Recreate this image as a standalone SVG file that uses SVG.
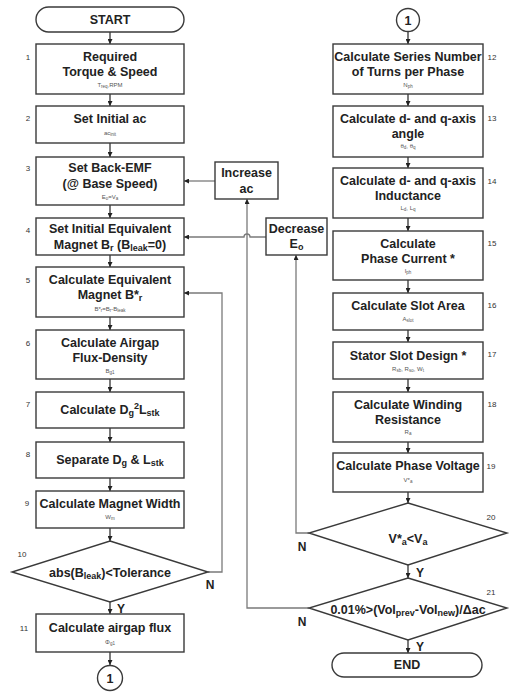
<svg xmlns="http://www.w3.org/2000/svg" width="517" height="700" viewBox="0 0 517 700">
<style>
.b{fill:#fff;stroke:#3a3a3a;stroke-width:1.4}
.t{font-family:"Liberation Sans",Arial,sans-serif;font-weight:bold;font-size:12.5px;fill:#222;text-anchor:middle}
.s{font-family:"Liberation Sans",Arial,sans-serif;font-size:6px;fill:#555;text-anchor:middle}
.n{font-family:"Liberation Sans",Arial,sans-serif;font-size:8px;fill:#333;text-anchor:middle}
.yn{font-family:"Liberation Sans",Arial,sans-serif;font-weight:bold;font-size:12px;fill:#222;text-anchor:middle}
.c{fill:none;stroke:#222;stroke-width:1.2}
.g{fill:none;stroke:#7a7a7a;stroke-width:1.3}
</style>
<defs>
<marker id="a" viewBox="0 0 6 6" markerWidth="5" markerHeight="5" refX="6" refY="3" orient="auto" markerUnits="userSpaceOnUse"><path d="M0,0 L6,3 L0,6 z" fill="#222"/></marker>
</defs>

<g id="connectors">
<path class="c" d="M110,32 V44" marker-end="url(#a)"/>
<path class="c" d="M110,94 V106" marker-end="url(#a)"/>
<path class="c" d="M110,143 V157" marker-end="url(#a)"/>
<path class="c" d="M110,205 V218" marker-end="url(#a)"/>
<path class="c" d="M110,255 V267" marker-end="url(#a)"/>
<path class="c" d="M110,317 V330" marker-end="url(#a)"/>
<path class="c" d="M110,379 V392" marker-end="url(#a)"/>
<path class="c" d="M110,428 V442" marker-end="url(#a)"/>
<path class="c" d="M110,478 V491" marker-end="url(#a)"/>
<path class="c" d="M110,528 V541" marker-end="url(#a)"/>
<path class="c" d="M110,602 V614" marker-end="url(#a)"/>
<path class="c" d="M110,652 V665" marker-end="url(#a)"/>
<path class="g" d="M208,572 H222 V293 H184" marker-end="url(#a)"/>
<path class="g" d="M215,181 H184" marker-end="url(#a)"/>
<path class="g" d="M266,237 H250 A3,3 0 0 0 244,237 H184" marker-end="url(#a)"/>
<path class="g" d="M309,608 H247 V199" marker-end="url(#a)"/>
<path class="g" d="M309,533 H296 V255" marker-end="url(#a)"/>
<path class="c" d="M408,31.5 V44" marker-end="url(#a)"/>
<path class="c" d="M408,94 V106" marker-end="url(#a)"/>
<path class="c" d="M408,157 V168" marker-end="url(#a)"/>
<path class="c" d="M408,218 V231" marker-end="url(#a)"/>
<path class="c" d="M408,280 V293" marker-end="url(#a)"/>
<path class="c" d="M408,330 V342" marker-end="url(#a)"/>
<path class="c" d="M408,379 V392" marker-end="url(#a)"/>
<path class="c" d="M408,442 V453" marker-end="url(#a)"/>
<path class="c" d="M408,492 V503" marker-end="url(#a)"/>
<path class="c" d="M408,565 V578" marker-end="url(#a)"/>
<path class="c" d="M408,640 V653" marker-end="url(#a)"/>
<text class="yn" x="210" y="589">N</text>
<text class="yn" x="121" y="613">Y</text>
<text class="yn" x="302" y="551">N</text>
<text class="yn" x="420" y="577">Y</text>
<text class="yn" x="302" y="626">N</text>
<text class="yn" x="420" y="651">Y</text>
</g>

<g id="start"><rect class="b" x="36" y="7" width="148" height="25" rx="12.5"/><text class="t" x="110" y="24">START</text></g>

<g id="n1"><rect class="b" x="36" y="44" width="148" height="50"/><text class="n" x="28" y="60">1</text>
<text class="t" x="110" y="61">Required</text><text class="t" x="110" y="76">Torque &amp; Speed</text>
<text class="s" x="110" y="87">T<tspan font-size="4.5" dy="1">req</tspan><tspan dy="-1">,RPM</tspan></text></g>

<g id="n2"><rect class="b" x="36" y="106" width="148" height="37"/><text class="n" x="28" y="121">2</text>
<text class="t" x="110" y="123">Set Initial ac</text>
<text class="s" x="110" y="135">ac<tspan font-size="4.5" dy="1">init</tspan></text></g>

<g id="n3"><rect class="b" x="36" y="157" width="148" height="48"/><text class="n" x="28" y="171">3</text>
<text class="t" x="110" y="172">Set Back-EMF</text><text class="t" x="110" y="188">(@ Base Speed)</text>
<text class="s" x="110" y="199">E<tspan font-size="4.5" dy="1">o</tspan><tspan dy="-1">=V</tspan><tspan font-size="4.5" dy="1">a</tspan></text></g>

<g id="n4"><rect class="b" x="36" y="218" width="148" height="37"/><text class="n" x="28" y="233">4</text>
<text class="t" x="110" y="233">Set Initial Equivalent</text>
<text class="t" x="110" y="249">Magnet B<tspan font-size="9" dy="2">r</tspan><tspan dy="-2"> (B</tspan><tspan font-size="9" dy="2">leak</tspan><tspan dy="-2">=0)</tspan></text></g>

<g id="n5"><rect class="b" x="36" y="267" width="148" height="50"/><text class="n" x="28" y="283">5</text>
<text class="t" x="110" y="284">Calculate Equivalent</text>
<text class="t" x="110" y="299">Magnet B*<tspan font-size="9" dy="2">r</tspan></text>
<text class="s" x="110" y="311">B*<tspan font-size="4.5" dy="1">r</tspan><tspan dy="-1">=B</tspan><tspan font-size="4.5" dy="1">r</tspan><tspan dy="-1">-B</tspan><tspan font-size="4.5" dy="1">leak</tspan></text></g>

<g id="n6"><rect class="b" x="36" y="330" width="148" height="49"/><text class="n" x="28" y="346">6</text>
<text class="t" x="110" y="347">Calculate Airgap</text><text class="t" x="110" y="362">Flux-Density</text>
<text class="s" x="110" y="373">B<tspan font-size="4.5" dy="1">g1</tspan></text></g>

<g id="n7"><rect class="b" x="36" y="392" width="148" height="36"/><text class="n" x="28" y="407">7</text>
<text class="t" x="110" y="414">Calculate D<tspan font-size="9" dy="2">g</tspan><tspan font-size="9" dy="-7">2</tspan><tspan dy="5">L</tspan><tspan font-size="9" dy="2">stk</tspan></text></g>

<g id="n8"><rect class="b" x="36" y="442" width="148" height="36"/><text class="n" x="28" y="457">8</text>
<text class="t" x="110" y="464">Separate D<tspan font-size="9" dy="2">g</tspan><tspan dy="-2"> &amp; L</tspan><tspan font-size="9" dy="2">stk</tspan></text></g>

<g id="n9"><rect class="b" x="36" y="491" width="148" height="37"/><text class="n" x="27" y="506">9</text>
<text class="t" x="110" y="508">Calculate Magnet Width</text>
<text class="s" x="110" y="519">W<tspan font-size="4.5" dy="1">m</tspan></text></g>

<g id="n10"><path class="b" d="M110,541 L208,572 L110,602 L12,572 Z"/><text class="n" x="22" y="557">10</text>
<text class="t" x="110" y="577">abs(B<tspan font-size="9" dy="2">leak</tspan><tspan dy="-2">)&lt;Tolerance</tspan></text></g>

<g id="n11"><rect class="b" x="36" y="614" width="148" height="38"/><text class="n" x="24" y="631">11</text>
<text class="t" x="110" y="632">Calculate airgap flux</text>
<text class="s" x="110" y="644">Φ<tspan font-size="4.5" dy="1">g1</tspan></text></g>

<g id="c1a"><circle class="b" cx="110" cy="678" r="12.5"/><text class="t" x="110" y="683">1</text></g>

<g id="inc"><rect class="b" x="215" y="162" width="63" height="37"/>
<text class="t" x="246.5" y="177">Increase</text><text class="t" x="246.5" y="193">ac</text></g>

<g id="dec"><rect class="b" x="266" y="218" width="61" height="37"/>
<text class="t" x="296.5" y="233">Decrease</text><text class="t" x="296.5" y="248">E<tspan font-size="9" dy="2">o</tspan></text></g>

<g id="c1b"><circle class="b" cx="408" cy="20" r="11.5"/><text class="t" x="408" y="25">1</text></g>

<g id="n12"><rect class="b" x="333" y="44" width="150" height="50"/><text class="n" x="492" y="60">12</text>
<text class="t" x="408" y="61">Calculate Series Number</text><text class="t" x="408" y="76">of Turns per Phase</text>
<text class="s" x="408" y="87">N<tspan font-size="4.5" dy="1">ph</tspan></text></g>

<g id="n13"><rect class="b" x="333" y="106" width="150" height="51"/><text class="n" x="492" y="121">13</text>
<text class="t" x="408" y="123">Calculate d- and q-axis</text><text class="t" x="408" y="138">angle</text>
<text class="s" x="408" y="148">θ<tspan font-size="4.5" dy="1">d</tspan><tspan dy="-1">, θ</tspan><tspan font-size="4.5" dy="1">q</tspan></text></g>

<g id="n14"><rect class="b" x="333" y="168" width="150" height="50"/><text class="n" x="492" y="184">14</text>
<text class="t" x="408" y="185">Calculate d- and q-axis</text><text class="t" x="408" y="200">Inductance</text>
<text class="s" x="408" y="210">L<tspan font-size="4.5" dy="1">d</tspan><tspan dy="-1">, L</tspan><tspan font-size="4.5" dy="1">q</tspan></text></g>

<g id="n15"><rect class="b" x="333" y="231" width="150" height="49"/><text class="n" x="492" y="246">15</text>
<text class="t" x="408" y="248">Calculate</text><text class="t" x="408" y="263">Phase Current *</text>
<text class="s" x="408" y="273">I<tspan font-size="4.5" dy="1">ph</tspan></text></g>

<g id="n16"><rect class="b" x="333" y="293" width="150" height="37"/><text class="n" x="492" y="308">16</text>
<text class="t" x="408" y="310">Calculate Slot Area</text>
<text class="s" x="408" y="321">A<tspan font-size="4.5" dy="1">slot</tspan></text></g>

<g id="n17"><rect class="b" x="333" y="342" width="150" height="37"/><text class="n" x="492" y="357">17</text>
<text class="t" x="408" y="360">Stator Slot Design *</text>
<text class="s" x="408" y="371">R<tspan font-size="4.5" dy="1">sb</tspan><tspan dy="-1">, R</tspan><tspan font-size="4.5" dy="1">so</tspan><tspan dy="-1">, W</tspan><tspan font-size="4.5" dy="1">t</tspan></text></g>

<g id="n18"><rect class="b" x="333" y="392" width="150" height="50"/><text class="n" x="492" y="407">18</text>
<text class="t" x="408" y="409">Calculate Winding</text><text class="t" x="408" y="424">Resistance</text>
<text class="s" x="408" y="434">R<tspan font-size="4.5" dy="1">a</tspan></text></g>

<g id="n19"><rect class="b" x="333" y="453" width="150" height="39"/><text class="n" x="491" y="469">19</text>
<text class="t" x="408" y="470">Calculate Phase Voltage</text>
<text class="s" x="408" y="482">V*<tspan font-size="4.5" dy="1">a</tspan></text></g>

<g id="n20"><path class="b" d="M408,503 L507,533 L408,565 L309,533 Z"/><text class="n" x="491" y="520">20</text>
<text class="t" x="408" y="543">V*<tspan font-size="9" dy="2">a</tspan><tspan dy="-2">&lt;V</tspan><tspan font-size="9" dy="2">a</tspan></text></g>

<g id="n21"><path class="b" d="M408,578 L507,608 L408,640 L309,608 Z"/><text class="n" x="491" y="595">21</text>
<text class="t" x="408" y="614">0.01%&gt;(Vol<tspan font-size="9" dy="2">prev</tspan><tspan dy="-2">-Vol</tspan><tspan font-size="9" dy="2">new</tspan><tspan dy="-2">)/Δac</tspan></text></g>

<g id="end"><rect class="b" x="332" y="653" width="150" height="24" rx="12"/><text class="t" x="407" y="669">END</text></g>
</svg>
